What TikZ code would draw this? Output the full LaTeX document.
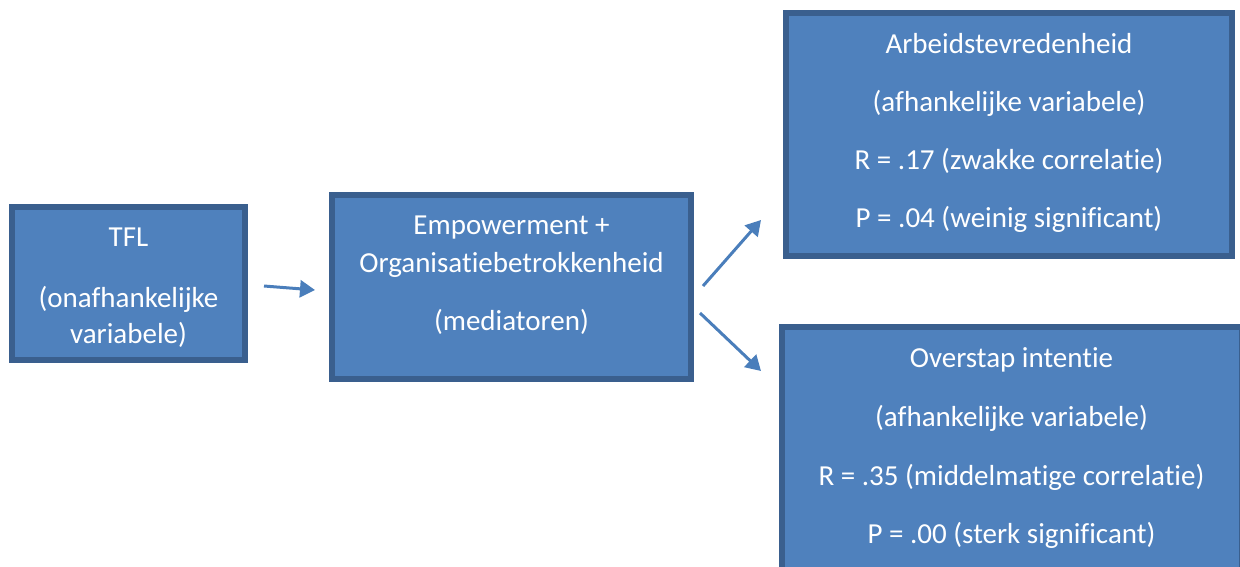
\documentclass[tikz,border=0pt]{standalone}
\usepackage{fontspec}
\setmainfont{Carlito}[Ligatures={NoCommon}, RawFeature={-liga;-dlig}]
\usetikzlibrary{arrows.meta}
\definecolor{boxfill}{HTML}{4F81BD}
\definecolor{boxline}{HTML}{3A5F8E}
\definecolor{arrowc}{HTML}{4A7EBB}
\tikzset{
  box/.style={draw=boxline, fill=boxfill, line width=6pt, rectangle, inner sep=0pt},
  txt/.style={text=white, font=\fontsize{29}{34}\selectfont, anchor=base, inner sep=0pt},
  conn/.style={draw=arrowc, line width=3pt, -{Triangle[length=15pt,width=17pt]}}
}
\begin{document}
\begin{tikzpicture}[x=1pt,y=-1pt]
\useasboundingbox (0,0) rectangle (1240,566);
\clip (0,0) rectangle (1240,566);
% boxes
\node[box, minimum width=233pt, minimum height=153pt] (tfl) at (128.5,283.5) {};
\node[box, minimum width=359pt, minimum height=184pt] (med) at (511.5,287) {};
\node[box, minimum width=446pt, minimum height=243pt] (arb) at (1009,134.5) {};
\node[box, minimum width=460pt, minimum height=270pt] (ovs) at (1012,462) {};
% texts
\node[txt] (tfl1) at (128.5,246) {TFL};
\node[txt] (tfl2) at (128.5,307) {(onafhankelijke};
\node[txt] (tfl3) at (128.5,343) {variabele)};
\node[txt] (med1) at (511.5,234) {Empowerment +};
\node[txt] (med2) at (511.5,272) {Organisatiebetrokkenheid};
\node[txt] (med3) at (511.5,330) {(mediatoren)};
\node[txt] (arb1) at (1009,53) {Arbeidstevredenheid};
\node[txt] (arb2) at (1009,111) {(afhankelijke variabele)};
\node[txt] (arb3) at (1009,169) {R = .17 (zwakke correlatie)};
\node[txt] (arb4) at (1009,227) {P = .04 (weinig significant)};
\node[txt] (ovs1) at (1011.5,367) {Overstap intentie};
\node[txt] (ovs2) at (1011.5,426) {(afhankelijke variabele)};
\node[txt] (ovs3) at (1011.5,485) {R = .35 (middelmatige correlatie)};
\node[txt] (ovs4) at (1011.5,543) {P = .00 (sterk significant)};
% connectors
\coordinate (a1s) at (264,286);
\coordinate (a1e) at (315,290);
\coordinate (a2s) at (703,286);
\coordinate (a2e) at (761,220);
\coordinate (a3s) at (700,313);
\coordinate (a3e) at (761,371);
\draw[conn] (a1s) -- (a1e);
\draw[conn] (a2s) -- (a2e);
\draw[conn] (a3s) -- (a3e);
\end{tikzpicture}
\end{document}
